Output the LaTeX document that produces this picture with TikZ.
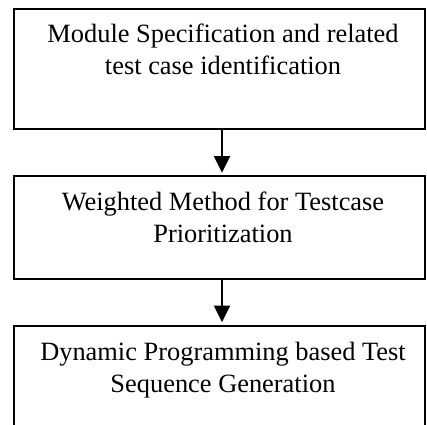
\documentclass[tikz,border=0pt]{standalone}
\usepackage{fontspec}
\setmainfont{Liberation Serif}
\usetikzlibrary{arrows.meta}
\begin{document}
\begin{tikzpicture}[x=0.75pt,y=-0.75pt,
  box/.style={draw, line width=1.5pt, anchor=north west, inner sep=0pt, outer sep=0pt, minimum width=308.25pt},
  txt/.style={anchor=base, inner sep=0pt, font=\fontsize{19.8pt}{24pt}\selectfont},
  arr/.style={line width=1.5pt, -{Triangle[width=12pt,length=12.5pt]}, shorten >=2.5pt}]
\clip (0,0) rectangle (427,424);
\node[box, minimum height=90pt] (b1) at (14,9) {};
\node[box, minimum height=77.25pt] (b2) at (14,176) {};
\node[box, minimum height=90pt] (b3) at (14,325.5) {};
\node[txt] (t1a) at (223,43) {Module Specification and related};
\node[txt] (t1b) at (223,75) {test case identification};
\node[txt] (t2a) at (223,210) {Weighted Method for Testcase};
\node[txt] (t2b) at (223,242) {Prioritization};
\node[txt] (t3a) at (223,360) {Dynamic Programming based Test};
\node[txt] (t3b) at (223,392) {Sequence Generation};
\coordinate (ax) at (222,0);
\draw[arr] (b1.south -| ax) -- (b2.north -| ax);
\draw[arr] (b2.south -| ax) -- (b3.north -| ax);
\end{tikzpicture}
\end{document}
